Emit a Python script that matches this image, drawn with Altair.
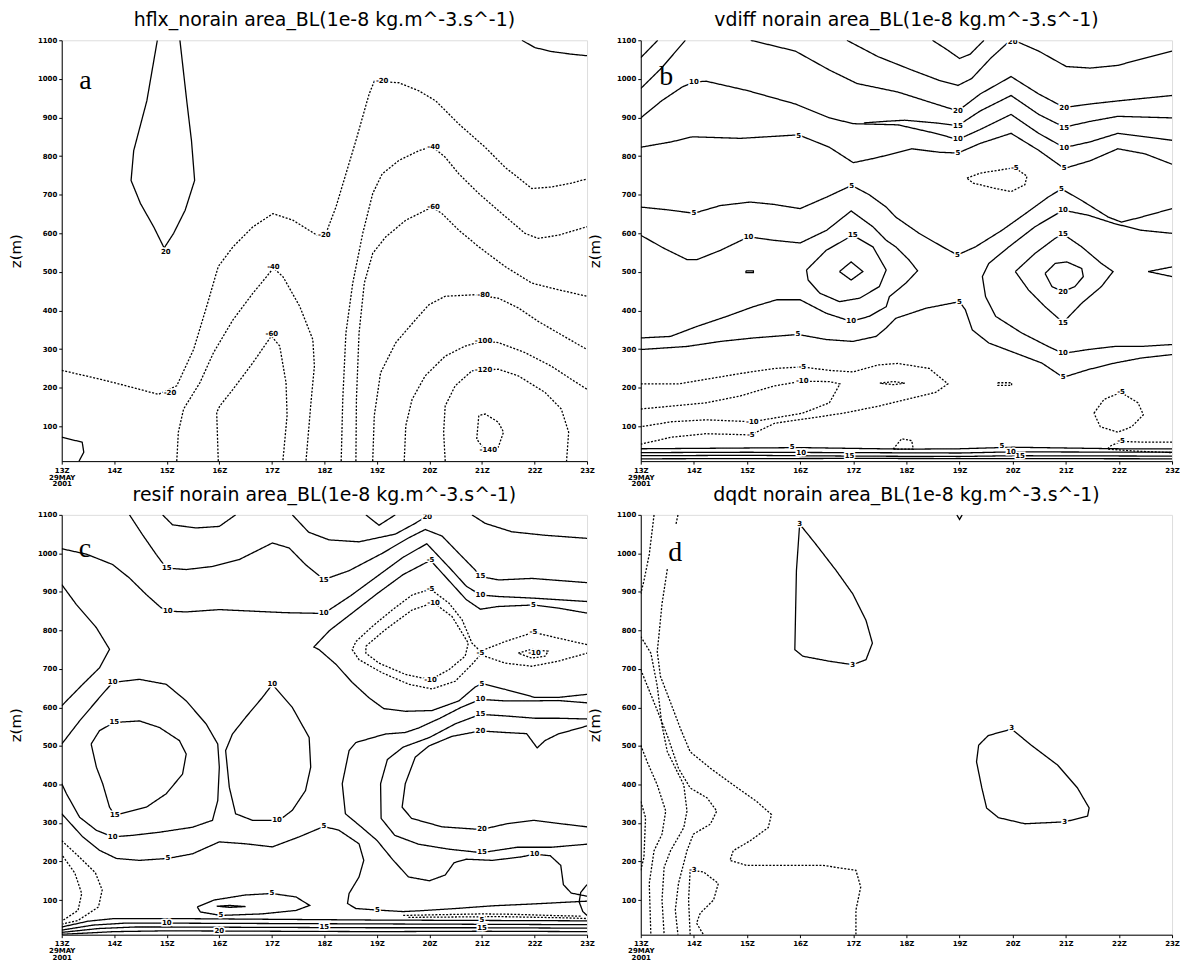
import altair as alt
import pandas as pd

X_TICKS = list(range(13, 24))
Y_TICKS = list(range(100, 1101, 100))
Z_DOMAIN = [10, 1100]
H_DOMAIN = [13, 23]

TITLES = {
    "a": "hflx_norain area_BL(1e-8 kg.m^-3.s^-1)",
    "b": "vdiff norain area_BL(1e-8 kg.m^-3.s^-1)",
    "c": "resif norain area_BL(1e-8 kg.m^-3.s^-1)",
    "d": "dqdt norain area_BL(1e-8 kg.m^-3.s^-1)",
}
LETTERS = {"a": (13.45, 995), "b": (13.48, 1005), "c": (13.44, 1012), "d": (13.65, 1002)}

# ---------------- panel a : hflx ----------------
a_p20 = [(14.82,1100),(14.62,943),(14.37,814),(14.32,737),(14.50,677),(14.75,617),(14.95,562),(15.13,600),(15.35,660),(15.53,737),(15.47,840),(15.38,943),(15.25,1100)]
a_p20b = [(13.0,72),(13.39,59),(13.42,33),(13.33,10)]
a_p20c = [(21.76,1100),(22.01,1081),(22.32,1071),(22.70,1064),(23.0,1060)]
a_m20 = [(13.0,245),(13.74,222),(14.37,200),(14.84,183),(15.19,205),(15.51,299),(15.76,411),(15.98,514),(16.26,565),(16.64,617),(17.02,651),(17.40,634),(17.91,591),(18.03,600),(18.22,668),(18.60,840),(18.85,960),(18.95,994),(19.42,990),(19.80,969),(20.12,943),(20.56,883),(21.06,823),(21.44,771),(21.95,716),(22.32,720),(22.70,730),(23.0,741)]
a_m40 = [(15.19,10),(15.22,85),(15.32,145),(15.63,213),(15.89,291),(16.26,376),(16.64,445),(16.90,488),(17.03,510),(17.21,488),(17.53,411),(17.78,325),(17.81,256),(17.75,170),(17.65,10)]
a_m60 = [(15.98,10),(15.95,136),(16.01,153),(16.26,196),(16.64,265),(16.99,334),(17.15,308),(17.27,213),(17.29,128),(17.21,10)]
a_m40b = [(18.32,10),(18.35,170),(18.41,342),(18.54,471),(18.73,600),(18.92,703),(19.10,754),(19.42,789),(19.80,814),(20.05,825),(20.30,797),(20.56,754),(20.94,703),(21.38,651),(21.82,600),(22.07,587),(22.45,595),(23.0,617)]
a_m60b = [(18.60,10),(18.61,170),(18.66,342),(18.76,471),(18.92,548),(19.17,591),(19.55,634),(20.05,668),(20.24,651),(20.56,608),(20.94,565),(21.44,514),(21.95,471),(22.45,454),(23.0,437)]
a_m80 = [(18.92,10),(18.95,128),(19.07,239),(19.36,317),(19.74,377),(19.99,415),(20.30,437),(20.87,441),(21.31,432),(21.69,407),(22.07,372),(22.45,342),(23.0,299)]
a_m100 = [(19.52,10),(19.55,102),(19.67,170),(19.92,231),(20.30,282),(20.68,308),(21.0,321),(21.31,317),(21.82,291),(22.32,256),(22.70,222),(23.0,196)]
a_m120 = [(20.30,10),(20.27,85),(20.30,153),(20.49,205),(20.81,244),(21.31,248),(21.69,231),(22.20,188),(22.51,145),(22.65,85),(22.61,10)]
a_m140 = [(20.94,128),(20.90,67),(21.06,38),(21.31,46),(21.41,85),(21.31,111),(21.06,132),(20.94,128)]
A_LINES = [(20,a_p20),(20,a_p20b),(20,a_p20c),(-20,a_m20),(-40,a_m40),(-60,a_m60),(-40,a_m40b),(-60,a_m60b),(-80,a_m80),(-100,a_m100),(-120,a_m120),(-140,a_m140)]
A_LABELS = [(14.98,552,"20"),(15.06,186,"-20"),(18.0,595,"-20"),(19.1,995,"-20"),(17.03,512,"-40"),(20.08,824,"-40"),(17.0,340,"-60"),(20.08,668,"-60"),(21.03,441,"-80"),(21.03,320,"-100"),(21.03,247,"-120"),(21.12,40,"-140")]

# ---------------- panel b : vdiff ----------------
b_20a = [(13.0,1055),(13.32,1100)]
b_15a = [(13.0,975),(13.39,1028),(13.84,1100)]
b_10a = [(13.0,899),(13.39,943),(13.78,979),(14.0,992),(14.23,994),(15.0,970),(15.91,935),(16.55,899),(17.0,884),(17.84,881),(18.55,859),(18.97,843),(19.39,869),(19.97,908),(20.49,859),(20.97,822),(21.46,837),(21.98,859),(22.49,850),(23.0,841)]
b_15b = [(17.2,886),(17.6,890),(17.97,893),(18.55,886),(18.97,879),(19.39,917),(19.97,957),(20.49,908),(20.97,875),(21.46,890),(21.98,903),(22.49,901),(23.0,899)]
b_20b = [(15.07,1100),(15.91,1072),(16.55,1023),(17.07,988),(17.84,966),(18.55,935),(18.97,917),(19.39,961),(19.97,1006),(20.49,961),(20.97,926),(21.46,935),(21.98,943),(22.49,950),(23.0,957)]
b_25 = [(16.88,1100),(17.46,1058),(18.1,1023),(18.62,996),(18.97,983),(19.23,1001),(19.59,1054),(19.91,1094),(20.04,1099),(20.49,1072),(21.01,1032),(21.46,1028),(21.98,1035),(22.49,1054),(23.0,1072)]
b_30 = [(18.49,1100),(18.75,1077),(19.0,1053),(19.2,1064),(19.46,1100)]
b_5a = [(13.0,823),(13.58,837),(13.97,850),(14.88,846),(15.97,855),(16.55,823),(17.0,783),(17.45,796),(18.1,819),(18.62,810),(18.97,808),(19.39,833),(19.97,859),(20.49,815),(20.97,768),(21.46,788),(21.98,819),(22.49,806),(23.0,779)]
b_m5a = [(19.14,743),(19.39,756),(20.04,770),(20.27,748),(20.23,726),(19.97,708),(19.65,717),(19.26,730),(19.14,743)]
b_5b = [(13.0,668),(13.5,661),(14.0,652),(14.5,672),(15.06,681),(15.5,675),(16.0,664),(16.5,694),(16.97,724),(17.3,700),(17.62,668),(17.8,642),(18.24,600),(18.68,565),(18.96,544),(19.3,565),(19.8,608),(20.24,651),(20.67,694),(20.92,715),(21.3,685),(21.8,642),(22.05,629),(22.42,642),(23.0,664)]
b_10b = [(13.0,595),(13.44,561),(13.87,532),(14.06,532),(14.5,556),(15.03,591),(15.5,582),(16.0,575),(16.5,608),(16.96,658),(17.37,617),(17.62,582),(17.8,565),(18.05,531),(18.21,503),(17.99,471),(17.68,436),(17.62,410),(17.3,385),(16.96,372),(16.49,393),(16.0,428),(15.56,428),(15.12,410),(14.62,385),(14.06,359),(13.56,333),(13.0,329)]
b_15c = [(16.12,505),(16.49,556),(16.99,595),(17.37,565),(17.62,505),(17.49,462),(17.12,432),(16.74,423),(16.37,445),(16.15,479),(16.12,505)]
b_20c = [(16.74,501),(16.96,526),(17.18,501),(16.96,479),(16.74,501)]
b_15d = [(14.98,503),(15.12,503),(15.12,498),(14.98,498),(14.98,503)]
b_5c = [(13.0,299),(13.87,307),(14.5,320),(15.12,329),(15.96,338),(16.49,325),(16.99,320),(17.43,333),(17.62,355),(17.8,380),(18.37,406),(19.0,423),(19.11,402),(19.24,350),(19.55,316),(20.05,290),(20.55,264),(20.95,227),(21.42,247),(21.92,264),(22.42,277),(23.0,286)]
b_10c = [(23.0,600),(22.42,608),(21.92,625),(21.42,647),(20.95,660),(20.42,617),(19.93,565),(19.55,522),(19.43,488),(19.49,436),(19.68,385),(20.17,342),(20.67,307),(20.95,289),(21.42,299),(21.92,307),(22.42,307),(23.0,312)]
b_15e = [(20.05,501),(20.42,548),(20.8,587),(20.95,598),(21.3,565),(21.67,522),(21.89,501),(21.67,462),(21.3,419),(20.95,369),(20.61,410),(20.3,453),(20.05,501)]
b_20d = [(20.61,496),(20.8,522),(21.02,526),(21.3,509),(21.33,488),(21.17,462),(20.95,449),(20.74,462),(20.61,496)]
b_15f = [(23.0,513),(22.55,501),(23.0,488)]
b_m5b = [(13.0,210),(13.71,210),(14.88,237),(15.52,250),(16.04,254),(16.55,245),(17.0,241),(17.46,259),(17.84,263),(18.43,250),(18.78,210),(18.55,188),(17.46,152),(16.81,134),(16.17,121),(15.52,108),(15.07,78),(14.23,81),(13.58,72),(13.0,54)]
b_m10 = [(13.0,145),(14.23,161),(14.88,179),(15.52,205),(16.04,217),(16.55,216),(16.75,210),(16.55,161),(16.04,134),(15.1,112),(14.23,117),(13.58,112),(13.0,99)]
b_m15a = [(17.5,212),(17.75,216),(17.97,212),(17.75,208),(17.5,212)]
b_m15b = [(19.72,213),(19.98,213),(19.98,206),(19.72,206),(19.72,213)]
b_m5c = [(21.53,134),(21.72,170),(22.04,188),(22.36,161),(22.46,130),(22.24,99),(21.98,85),(21.65,99),(21.53,134)]
b_m5d = [(17.75,41),(17.91,68),(18.1,63),(18.13,41),(17.75,41)]
b_m5e = [(23.0,59),(22.49,59),(22.04,61),(21.85,50),(21.78,41),(22.3,36),(23.0,32)]
b_s5 = [(13.0,42),(14.0,43),(15.0,44),(16.0,45),(17.0,43),(18.0,41),(19.0,42),(20.0,46),(21.0,44),(22.0,42),(23.0,42)]
b_s10 = [(13.0,32),(15.0,33),(17.0,32),(19.0,31),(20.0,34),(23.0,33)]
b_s15 = [(13.0,24),(15.0,25),(17.0,23),(19.0,22),(20.0,24),(23.0,23)]
b_s20 = [(13.0,16),(17.0,17),(23.0,16)]
B_LINES = [(20,b_20a),(15,b_15a),(10,b_10a),(15,b_15b),(20,b_20b),(25,b_25),(30,b_30),(5,b_5a),(-5,b_m5a),(5,b_5b),(10,b_10b),(15,b_15c),(20,b_20c),(15,b_15d),(5,b_5c),(10,b_10c),(15,b_15e),(20,b_20d),(15,b_15f),(-5,b_m5b),(-10,b_m10),(-15,b_m15a),(-15,b_m15b),(-5,b_m5c),(-5,b_m5d),(-5,b_m5e),(5,b_s5),(10,b_s10),(15,b_s15),(20,b_s20)]
B_LABELS = [(14.0,992,"10"),(15.97,853,"5"),(20.0,1096,"20"),(18.97,917,"20"),(18.97,879,"15"),(18.97,843,"10"),(18.97,808,"5"),(20.97,924,"20"),(20.97,874,"15"),(20.97,822,"10"),(20.97,768,"5"),(20.04,770,"-5"),(14.0,652,"5"),(15.03,591,"10"),(16.97,722,"5"),(16.99,595,"15"),(18.96,544,"5"),(20.92,715,"5"),(20.95,660,"10"),(20.95,598,"15"),(20.95,449,"20"),(20.95,369,"15"),(20.95,289,"10"),(20.95,227,"5"),(16.96,372,"10"),(15.96,338,"5"),(19.0,423,"5"),(16.04,254,"-5"),(16.04,217,"-10"),(15.1,112,"-10"),(15.07,78,"-5"),(22.04,188,"-5"),(22.04,61,"-5"),(15.85,47,"5"),(16.02,32,"10"),(16.93,22,"15"),(19.8,48,"5"),(19.97,33,"10"),(20.14,22,"15")]

# ---------------- panel c : resif ----------------
c_15a = [(14.29,1100),(14.54,1048),(14.80,997),(14.99,962),(15.37,958),(15.87,966),(16.38,984),(17.01,1027),(17.33,1014),(17.64,971),(17.99,932),(18.47,955),(19.1,1000),(19.6,1040),(19.92,1062),(20.24,1045),(20.56,1000),(20.87,957),(20.97,940),(21.32,931),(21.95,935),(23.0,924)]
c_20a = [(14.92,1100),(15.11,1074),(15.56,1066),(16.0,1070),(16.31,1100)]
c_20b = [(17.39,1100),(17.7,1055),(18.09,1035),(18.66,1030),(19.35,1050),(19.73,1078),(19.96,1098)]
c_25 = [(18.79,1100),(19.04,1073),(19.35,1100)]
c_20c = [(20.81,1100),(21.06,1078),(21.57,1056),(22.2,1047),(23.0,1039)]
c_10a = [(13.0,1012),(13.47,998),(13.97,971),(14.29,936),(14.61,893),(14.89,859),(15.02,850),(15.37,848),(16.0,854),(16.63,850),(17.26,846),(17.99,844),(18.5,890),(19.0,940),(19.5,990),(19.95,1025),(20.4,960),(20.7,915),(20.97,892),(21.32,888),(21.95,884),(23.0,875)]
c_5a = [(23.0,634),(22.45,626),(22.01,626),(21.44,647),(21.0,662),(20.87,653),(20.56,617),(20.05,592),(19.54,590),(19.13,597),(18.85,625),(18.53,665),(18.22,712),(17.9,750),(17.8,757),(18.1,800),(18.5,842),(19.0,895),(19.5,945),(20.02,982),(20.4,925),(20.7,880),(20.97,855),(21.3,862),(21.98,866),(22.45,858),(23.0,845)]
c_10b = [(23.0,612),(22.45,618),(21.95,617),(21.44,617),(20.97,621),(20.6,600),(20.2,572),(19.8,547),(19.54,535),(19.16,531),(18.6,509),(18.47,488),(18.34,402),(18.4,324),(18.7,290),(19.0,255),(19.3,205),(19.6,160),(20.0,150),(20.3,165),(20.47,197),(20.7,206),(21.2,203),(21.75,212),(22.0,219),(22.3,215),(22.5,190),(22.55,140),(22.7,118),(23.0,110)]
c_15b = [(23.0,570),(22.45,572),(22.01,572),(21.44,578),(20.97,582),(20.5,558),(20.0,522),(19.5,497),(19.2,465),(19.07,402),(19.08,312),(19.34,268),(19.79,245),(20.37,232),(20.99,223),(21.67,237),(22.32,237),(23.0,245)]
c_20d = [(23.0,552),(22.45,531),(22.2,514),(22.05,495),(21.85,532),(21.44,535),(20.97,539),(20.43,525),(19.99,500),(19.73,471),(19.54,402),(19.48,341),(19.66,312),(20.24,290),(20.99,283),(21.47,298),(21.99,307),(22.51,298),(23.0,290)]
c_5b = [(13.0,324),(13.4,264),(13.72,229),(14.04,208),(14.48,203),(15.02,208),(15.49,220),(16.0,251),(16.5,246),(17.01,238),(17.52,264),(17.99,291),(18.28,281),(18.66,246),(18.75,203),(18.66,160),(18.47,117),(18.44,91),(18.6,78),(19.01,74),(19.5,70),(19.8,72),(20.5,78),(21.2,85),(22.0,90),(22.7,95),(23.0,97)]
c_10c = [(13.0,505),(13.34,565),(13.72,626),(13.97,665),(14.48,673),(14.99,660),(15.37,617),(15.75,557),(15.97,505),(16.0,445),(15.97,358),(15.87,307),(15.49,289),(14.86,276),(14.35,268),(13.97,264),(13.66,281),(13.34,315),(13.09,376),(13.0,402)]
c_15c = [(13.56,505),(13.72,540),(14.0,561),(14.48,565),(14.86,548),(15.24,514),(15.37,479),(15.3,427),(14.99,376),(14.61,341),(14.01,320),(13.91,341),(13.78,402),(13.66,445),(13.56,505)]
c_5c = [(13.0,919),(13.28,867),(13.66,807),(13.91,751),(13.72,703),(13.4,660),(13.09,617),(13.0,604)]
c_10d = [(17.01,660),(17.39,600),(17.71,522),(17.74,445),(17.64,384),(17.39,333),(17.14,307),(16.63,307),(16.31,324),(16.19,393),(16.12,488),(16.25,531),(16.5,574),(16.82,626),(17.01,660)]
c_m5a = [(23.0,763),(22.45,780),(21.98,795),(21.44,771),(20.97,746),(20.81,767),(20.62,828),(20.37,871),(20.02,907),(19.67,892),(19.29,853),(18.91,810),(18.6,771),(18.53,750),(18.66,724),(19.1,690),(19.61,660),(20.05,648),(20.49,668),(20.81,712),(20.97,737),(21.44,715),(21.95,707),(22.45,720),(23.0,741)]
c_m10a = [(18.79,759),(19.16,802),(19.67,853),(20.08,872),(20.43,836),(20.74,767),(20.68,733),(20.37,698),(20.02,672),(19.54,686),(19.04,715),(18.79,741),(18.79,759)]
c_m10b = [(21.69,741),(21.95,751),(22.26,746),(22.2,733),(21.95,728),(21.69,741)]
c_5d = [(15.58,82),(15.9,100),(16.49,113),(17.0,117),(17.46,108),(17.72,86),(17.46,73),(16.81,64),(16.03,60),(15.64,69),(15.58,82)]
c_10e = [(15.95,84),(16.2,86),(16.5,83),(16.2,81),(15.95,84)]
c_m5b = [(13.0,254),(13.31,215),(13.64,171),(13.77,126),(13.7,82),(13.31,47),(13.02,38)]
c_m10c = [(13.02,214),(13.25,170),(13.38,117),(13.31,73),(13.02,47)]
c_15d = [(23.0,140),(22.88,120),(22.85,95),(22.92,70),(23.0,60)]
c_s5 = [(13.0,30),(13.5,45),(14.0,52),(15.0,52),(17.0,50),(19.0,48),(21.0,47),(23.0,46)]
c_s10 = [(13.0,22),(13.6,35),(14.2,40),(15.0,40),(17.0,39),(19.0,38),(21.0,37),(23.0,36)]
c_s15 = [(13.0,16),(13.7,26),(14.4,30),(15.0,30),(17.0,29),(19.0,28),(21.0,28),(23.0,27)]
c_s20 = [(13.0,11),(14.0,18),(15.0,20),(17.0,19),(19.0,18),(21.0,19),(23.0,18)]
c_m5c = [(19.5,60),(20.2,62),(21.0,64),(21.6,63),(22.3,60),(22.9,58)]
c_m5d = [(19.6,55),(20.5,56),(21.3,57),(22.5,54),(23.0,52)]
C_LINES = [(15,c_15a),(20,c_20a),(20,c_20b),(25,c_25),(20,c_20c),(10,c_10a),(5,c_5a),(10,c_10b),(15,c_15b),(20,c_20d),(5,c_5b),(10,c_10c),(15,c_15c),(5,c_5c),(10,c_10d),(-5,c_m5a),(-10,c_m10a),(-10,c_m10b),(5,c_5d),(10,c_10e),(-5,c_m5b),(-10,c_m10c),(15,c_15d),(5,c_s5),(10,c_s10),(15,c_s15),(20,c_s20),(-5,c_m5c),(-5,c_m5d)]
C_LABELS = [(15.0,962,"15"),(15.02,850,"10"),(17.99,932,"15"),(17.99,844,"10"),(19.96,1094,"20"),(20.97,940,"15"),(20.97,892,"10"),(20.02,982,"-5"),(20.02,907,"-5"),(20.08,872,"-10"),(21.98,866,"5"),(21.98,795,"-5"),(22.0,741,"-10"),(20.97,741,"-5"),(20.02,672,"-10"),(21.0,662,"5"),(20.97,621,"10"),(20.97,582,"15"),(20.97,539,"20"),(21.0,285,"20"),(21.0,225,"15"),(22.0,219,"10"),(13.97,665,"10"),(14.0,561,"15"),(14.01,320,"15"),(13.97,264,"10"),(17.01,660,"10"),(17.1,307,"10"),(15.02,208,"5"),(17.99,291,"5"),(17.0,117,"5"),(16.03,60,"5"),(19.01,74,"5"),(15.0,40,"10"),(16.0,19,"20"),(18.0,29,"15"),(21.0,47,"5"),(21.0,28,"15")]

# ---------------- panel d : dqdt ----------------
d_3a = [(15.99,1074),(15.93,955),(15.9,750),(16.05,733),(16.55,720),(16.99,711),(17.24,724),(17.36,767),(17.24,826),(16.99,895),(16.68,955),(16.3,1023),(16.05,1066),(15.99,1074)]
d_3b = [(19.98,544),(20.35,502),(20.85,450),(21.22,391),(21.44,339),(21.41,318),(20.98,303),(20.23,298),(19.73,314),(19.51,339),(19.42,391),(19.32,459),(19.36,502),(19.54,527),(19.98,544)]
d_3c = [(18.95,1100),(19.0,1088),(19.05,1100)]
d_m3a = [(13.25,1100),(13.16,997),(13.06,929),(13.0,895)]
d_m3b = [(13.7,1100),(13.66,1074)]
d_m3c = [(13.5,959),(13.4,869),(13.34,784),(13.31,745),(13.37,681),(13.56,613),(13.75,544),(13.93,485),(14.31,442),(14.74,399),(15.18,356),(15.46,322),(15.4,288),(15.06,254),(14.74,228),(14.68,203),(14.99,190),(15.55,190),(16.43,190),(17.05,177),(17.14,134),(17.05,74),(17.05,10)]
d_m3d = [(13.0,698),(13.25,613),(13.5,527),(13.71,442),(13.93,391),(14.25,365),(14.43,331),(14.31,297),(13.99,271),(13.87,228),(13.71,143),(13.65,74),(13.7,10)]
d_m3e = [(13.0,784),(13.19,741),(13.31,656),(13.4,553),(13.5,485),(13.81,399),(13.87,331),(13.81,288),(13.56,228),(13.44,185),(13.4,100),(13.44,10)]
d_m3f = [(13.0,502),(13.12,459),(13.31,399),(13.47,331),(13.4,271),(13.25,228),(13.16,143),(13.19,10)]
d_m3g = [(13.0,356),(13.09,314),(13.06,211),(13.0,177)]
d_m3h = [(13.93,10),(13.9,100),(13.93,177),(14.18,173),(14.46,143),(14.37,100),(14.12,66),(14.05,40),(14.18,10)]
D_LINES = [(3,d_3a),(3,d_3b),(3,d_3c),(-3,d_m3a),(-3,d_m3b),(-3,d_m3c),(-3,d_m3d),(-3,d_m3e),(-3,d_m3f),(-3,d_m3g),(-3,d_m3h)]
D_LABELS = [(15.99,1076,"3"),(16.99,711,"3"),(19.98,546,"3"),(20.98,303,"3"),(13.98,178,"-3")]

PANEL_DATA = {"a": (A_LINES, A_LABELS), "b": (B_LINES, B_LABELS), "c": (C_LINES, C_LABELS), "d": (D_LINES, D_LABELS)}

FONT = "DejaVu Sans"


def make_panel(key, width, height):
    lines, labels = PANEL_DATA[key]
    rows = []
    for i, (lvl, pts) in enumerate(lines):
        for j, (h, z) in enumerate(pts):
            rows.append({"line": f"{key}{i}", "ord": j, "hour": h, "z": z,
                         "style": "dot" if lvl < 0 else "solid"})
    df = pd.DataFrame(rows)
    lab = pd.DataFrame([{"hour": h, "z": z, "text": t} for h, z, t in labels])
    let = pd.DataFrame([{"hour": LETTERS[key][0], "z": LETTERS[key][1], "text": key}])

    x = alt.X("hour:Q", scale=alt.Scale(domain=H_DOMAIN, nice=False, zero=False),
              axis=alt.Axis(values=X_TICKS, title=None, grid=False, labelFlush=False,
                            labelExpr="datum.value == 13 ? ['13Z','29MAY','2001'] : datum.value + 'Z'",
                            labelFont=FONT, labelFontSize=7, labelFontWeight="bold",
                            labelLineHeight=7, labelPadding=2, tickSize=3,
                            labelColor="black", tickColor="black", domainColor="black"))
    y = alt.Y("z:Q", scale=alt.Scale(domain=Z_DOMAIN, nice=False, zero=False),
              axis=alt.Axis(values=Y_TICKS, title="z(m)", grid=False, labelFlush=False, format="d",
                            labelFont=FONT, labelFontSize=7, labelFontWeight="bold",
                            labelPadding=2, tickSize=3, titleFont=FONT, titleFontSize=15,
                            titleFontWeight="normal", titleX=-46, titleY=height / 2,
                            titleBaseline="middle", titleAngle=270,
                            labelColor="black", tickColor="black", domainColor="black",
                            titleColor="black"))

    contour = alt.Chart(df).mark_line(color="black", strokeWidth=1.3, clip=True).encode(
        x=x, y=y, detail="line:N", order="ord:Q",
        strokeDash=alt.StrokeDash("style:N", scale=alt.Scale(domain=["solid", "dot"],
                                                            range=[[1, 0], [2, 1.6]]), legend=None))
    halo = alt.Chart(lab).mark_text(font=FONT, fontSize=7, fontWeight="bold", stroke="white",
                                    strokeWidth=3, color="white", clip=True).encode(x=x, y=y, text="text:N")
    txt = alt.Chart(lab).mark_text(font=FONT, fontSize=7, fontWeight="bold", color="black",
                                   clip=True).encode(x=x, y=y, text="text:N")
    letter = alt.Chart(let).mark_text(font="Liberation Serif", fontSize=28, color="black").encode(
        x=x, y=y, text="text:N")
    return alt.layer(contour, halo, txt, letter).properties(
        width=width, height=height,
        title=alt.TitleParams(TITLES[key], font=FONT, fontSize=19, fontWeight="normal",
                              color="black", offset=6, anchor="middle"))


chart = alt.concat(
    make_panel("a", 528, 423), make_panel("b", 534, 423),
    make_panel("c", 528, 422), make_panel("d", 534, 422),
    columns=2, spacing=54, bounds="flush",
).properties(padding={"left": 0, "top": 0, "right": 0, "bottom": 0}).configure_view(
    stroke="black", strokeWidth=1.5).configure(background="white")

chart.save("out.html", embed_options={"renderer": "svg", "actions": False})
